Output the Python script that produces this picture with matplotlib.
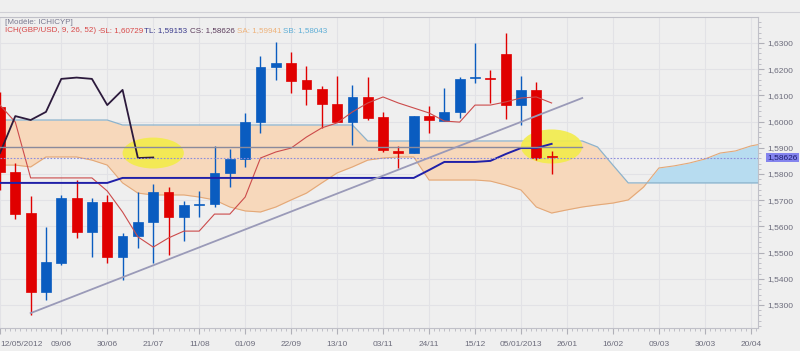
import numpy as np
import matplotlib
matplotlib.use('Agg')
import matplotlib.pyplot as plt
import matplotlib.transforms as mtransforms
from matplotlib.patches import Rectangle, Ellipse
from matplotlib.ticker import MultipleLocator, FuncFormatter

plt.rcParams['font.family'] = ['Liberation Sans', 'DejaVu Sans']

# weekly GBP/USD candles, week 0 = 09/06/2012
weeks = np.arange(-4, 33)
opens = [1.6057, 1.5809, 1.5651, 1.5351, 1.5461, 1.5708, 1.5579, 1.5693, 1.5483, 1.5563,
         1.5617, 1.5731, 1.5636, 1.5682, 1.5685, 1.5804, 1.5857, 1.5998, 1.6208, 1.6224,
         1.6159, 1.6124, 1.6067, 1.5998, 1.6094, 1.6018, 1.5888, 1.5880, 1.6021, 1.6002,
         1.6037, 1.6165, 1.6166, 1.6258, 1.6063, 1.6121, 1.5865]
highs = [1.6113, 1.5842, 1.5716, 1.5598, 1.5720, 1.5777, 1.5708, 1.5720, 1.5575, 1.5731,
         1.5762, 1.5750, 1.5697, 1.5735, 1.5907, 1.5895, 1.6033, 1.6250, 1.6304, 1.6266,
         1.6212, 1.6136, 1.6174, 1.6140, 1.6170, 1.6037, 1.5907, 1.6021, 1.6060, 1.6128,
         1.6170, 1.6300, 1.6197, 1.6338, 1.6174, 1.6151, 1.5888]
lows = [1.5739, 1.5628, 1.5262, 1.5319, 1.5453, 1.5556, 1.5483, 1.5460, 1.5395, 1.5518,
        1.5460, 1.5491, 1.5544, 1.5636, 1.5674, 1.5750, 1.5827, 1.5956, 1.6159, 1.6109,
        1.6063, 1.5976, 1.5998, 1.5911, 1.6006, 1.5884, 1.5823, 1.5880, 1.5956, 1.6002,
        1.6014, 1.6147, 1.6071, 1.6010, 1.5987, 1.5853, 1.5800]
closes = [1.5809, 1.5647, 1.5351, 1.5464, 1.5708, 1.5579, 1.5693, 1.5483, 1.5563, 1.5617,
          1.5731, 1.5636, 1.5682, 1.5687, 1.5804, 1.5857, 1.5998, 1.6208, 1.6224, 1.6155,
          1.6124, 1.6067, 1.5998, 1.6094, 1.6014, 1.5892, 1.5880, 1.6021, 1.6006, 1.6037,
          1.6163, 1.6168, 1.6163, 1.6063, 1.6121, 1.5861, 1.5863]

# tenkan (SL) and kijun (TL), same weeks as candles
tenkan = [1.6063, 1.5998, 1.5785, 1.5785, 1.5785, 1.5785, 1.5785, 1.5735, 1.5655, 1.5560,
          1.5521, 1.5556, 1.5582, 1.5582, 1.5647, 1.5647, 1.5712, 1.5861, 1.5884, 1.5899,
          1.5941, 1.5976, 1.5995, 1.6037, 1.6071, 1.6094, 1.6071, 1.6052, 1.6033, 1.6002,
          1.5998, 1.6063, 1.6063, 1.6075, 1.6090, 1.6094, 1.6071]
kijun = [1.5766] * 8 + [1.5785] * 20 + [1.5815, 1.5846, 1.5846, 1.5846, 1.5850,
                                         1.5876, 1.5899, 1.5899, 1.5915]

# cloud, weeks -4 .. 46
cloud_weeks = np.arange(-4, 47)
senkou_a = [1.5834, 1.5834, 1.5827, 1.5865, 1.5865, 1.5865, 1.5853, 1.5834, 1.5766, 1.5727,
            1.5720, 1.5720, 1.5720, 1.5712, 1.5701, 1.5674, 1.5659, 1.5655, 1.5674, 1.5701,
            1.5727, 1.5766, 1.5804, 1.5827, 1.5853, 1.5861, 1.5865, 1.5865, 1.5777, 1.5777,
            1.5777, 1.5777, 1.5773, 1.5758, 1.5739, 1.5674, 1.5651, 1.5663, 1.5674, 1.5682,
            1.5689, 1.5701, 1.5750, 1.5823, 1.5831, 1.5842, 1.5857, 1.5880, 1.5888, 1.5907,
            1.5918]
senkou_b = [1.6006] * 8 + [1.5987] * 16 + [1.5926] * 15 + [1.5903, 1.5834] + [1.5766] * 10

# chikou = closes drawn 26 weeks back
lag = 26

# drawn lines
support_level = 1.5903
trend_weeks = [-2, 34]
trend_prices = [1.5269, 1.6090]
last_price = 1.58626

tick_weeks = [-4] + list(range(0, 46, 3))
tick_labels = ['12/05/2012', '09/06', '30/06', '21/07', '11/08', '01/09', '22/09', '13/10',
               '03/11', '24/11', '15/12', '05/01/2013', '26/01', '16/02', '09/03', '30/03',
               '20/04']

bg = '#efefef'
fig = plt.figure(figsize=(8, 3.51), dpi=100, facecolor=bg)
ax = fig.add_axes([0, 23 / 351, 758 / 800, 311 / 351])
ax.set_facecolor(bg)

ax.set_xlim(-3.98, 45.47)
ax.set_ylim(1.52122, 1.63992)

# cloud
sa = np.array(senkou_a)
sb = np.array(senkou_b)
ax.fill_between(cloud_weeks, sa, sb, where=sb >= sa, interpolate=True,
                color='#f7d8bb', lw=0, zorder=1)
ax.fill_between(cloud_weeks, sa, sb, where=sa > sb, interpolate=True,
                color='#b7dcf0', lw=0, zorder=1)
ax.plot(cloud_weeks, sa, color='#e3a878', lw=0.8, zorder=1.5)
ax.plot(cloud_weeks, sb, color='#8db3cc', lw=0.9, zorder=1.5)

# highlights
ax.add_patch(Ellipse((6, 1.5880), 4.0, 0.0118, color='#f3ec4a', alpha=0.9, lw=0, zorder=2))
ax.add_patch(Ellipse((32, 1.5905), 4.0, 0.0130, color='#f3ec4a', alpha=0.9, lw=0, zorder=2))

# candles
for w, o, h, l, c in zip(weeks, opens, highs, lows, closes):
    col = '#0a5cc0' if c >= o else '#e00000'
    ax.vlines(w, l, h, color=col, lw=1.0, zorder=3)
    bottom = min(o, c)
    height = max(abs(c - o), 0.0004)
    ax.add_patch(Rectangle((w - 0.32, bottom), 0.64, height, facecolor=col,
                           edgecolor=col, lw=0.5, zorder=3))

# ichimoku lines
ax.plot(weeks, tenkan, color='#cc4b4b', lw=0.8, zorder=4)
ax.plot(weeks, kijun, color='#2020a8', lw=1.4, zorder=4)
ax.plot(weeks[:len(weeks) - lag], closes[lag:], color='#2c1a3c', lw=1.3, zorder=4)

# drawings
ax.plot([-4, 34], [support_level, support_level], color='#8a8a9c', lw=1.0, zorder=4)
ax.plot(trend_weeks, trend_prices, color='#9a9ab8', lw=1.3, zorder=4)
ax.axhline(last_price, color='#8c8cdc', lw=0.8, ls=(0, (1.5, 1.5)), zorder=4)

# axes
ax.grid(True, color='#e2e2e6', lw=0.8, zorder=0)
ax.set_axisbelow(True)
ax.set_xticks(tick_weeks)
ax.set_xticklabels(tick_labels)
ax.xaxis.set_minor_locator(MultipleLocator(1 / 3))
ax.yaxis.tick_right()
ax.set_yticks(np.arange(1.53, 1.6301, 0.01))
ax.yaxis.set_major_formatter(FuncFormatter(lambda v, p: f'{v:.4f}'.replace('.', ',')))
ax.yaxis.set_minor_locator(MultipleLocator(0.002))
ax.tick_params(axis='y', which='major', length=4, pad=3, labelsize=6,
               colors='#b0b0b8', labelcolor='#6c6c7c')
ax.tick_params(axis='y', which='minor', length=2, colors='#b8b8c0')
ax.tick_params(axis='x', which='major', length=4, pad=5, labelsize=6,
               colors='#b0b0b8', labelcolor='#6c6c7c')
ax.tick_params(axis='x', which='minor', length=2, colors='#b8b8c0')
ax.get_xticklabels()[0].set_ha('left')
ax.spines['left'].set_visible(False)
for side in ['right', 'bottom', 'top']:
    ax.spines[side].set_color('#c0c0c8')
    ax.spines[side].set_linewidth(0.8)

# price tag
trans = mtransforms.blended_transform_factory(ax.transAxes, ax.transData)
ax.text(1.0125, last_price, '1,58626', transform=trans, fontsize=6, color='#1c1c6c',
        va='center', ha='left', clip_on=False,
        bbox=dict(boxstyle='square,pad=0.15', facecolor='#8484ee', edgecolor='none'))

# header
fig.text(5 / 800, 1 - 23 / 351, '[Modèle: ICHICYP]', fontsize=5.8, color='#7a7a90',
         va='center')
legend_parts = [('ICH(GBP/USD, 9, 26, 52) -', '#d84848', 5),
                ('SL: 1,60729', '#d84848', 100),
                ('TL: 1,59153', '#3a3a8c', 144),
                ('CS: 1,58626', '#5a3a5a', 190),
                ('SA: 1,59941', '#eeb27a', 237),
                ('SB: 1,58043', '#5eaed6', 283)]
for txt, col, xp in legend_parts:
    fig.text(xp / 800, 1 - 31 / 351, txt, fontsize=5.8, color=col, va='center')

fig.add_artist(plt.Line2D([0, 1], [1 - 12 / 351, 1 - 12 / 351], color='#d0d0d6', lw=0.8))

fig.savefig('out.png', dpi=100, facecolor=bg)
